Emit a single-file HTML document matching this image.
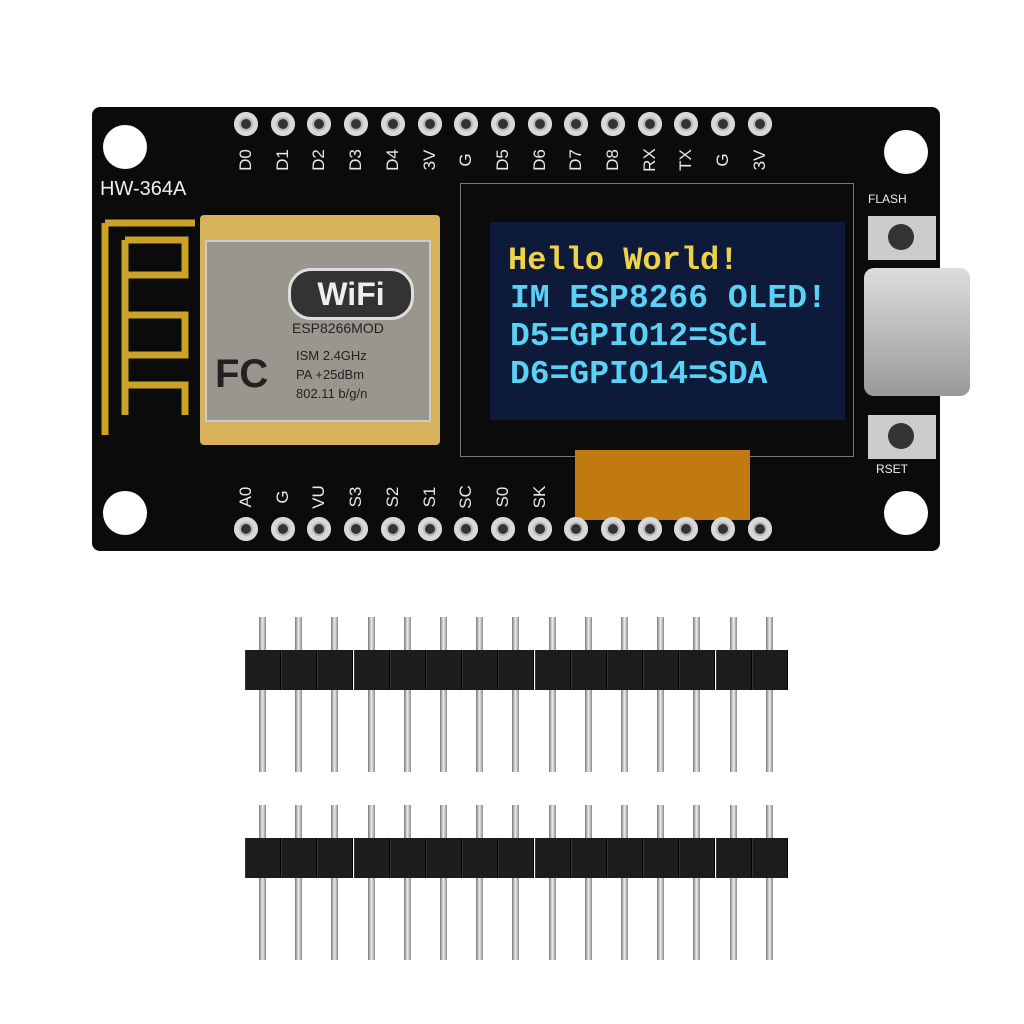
<!DOCTYPE html>
<html><head><style>
body{margin:0;width:1024px;height:1024px;background:#fff;position:relative;overflow:hidden;font-family:"Liberation Sans",sans-serif}
.a{position:absolute}
.board{left:92px;top:107px;width:848px;height:444px;background:#0b0b0b;border-radius:8px}
.hole{width:44px;height:44px;border-radius:50%;background:#fff}
.pad{width:24px;height:24px;border-radius:50%;background:#b9b9b9;box-shadow:inset 0 0 0 5px #d8d8d8}
.pad::after{content:"";position:absolute;left:7px;top:7px;width:10px;height:10px;border-radius:50%;background:#333}
.lbl{color:#e8e8e8;font-size:17px;transform:rotate(-90deg);transform-origin:center;width:40px;text-align:center}
.scr{left:490px;top:222px;width:355px;height:198px;background:#0d1a3a;font-family:"Liberation Mono",monospace;font-size:32px;font-weight:bold}
.pin{width:7px;background:linear-gradient(90deg,#777,#eee,#888)}
.plas{background:#151515;height:40px}
.seg{width:34px;height:40px;background:#1c1c1c;border-left:1px solid #333;border-right:1px solid #000}
</style></head><body>
<div class="a board"></div>
<div class="a hole" style="left:103px;top:125px"></div>
<div class="a hole" style="left:884px;top:130px"></div>
<div class="a hole" style="left:103px;top:491px"></div>
<div class="a hole" style="left:884px;top:491px"></div>
<div class="a" style="left:100px;top:178px;color:#eee;font-size:20px">HW-364A</div>
<svg class="a" style="left:95px;top:215px" width="110" height="230"><path d="M10 8 H100 M10 8 V220 M30 25 V200 M30 25 H90 V60 H30 M30 100 H90 V140 H30 M30 170 H90 V200" stroke="#c9a227" stroke-width="7" fill="none"/></svg>
<div class="a" style="left:200px;top:215px;width:240px;height:230px;background:#d8b25a;border-radius:4px"></div>
<div class="a" style="left:205px;top:240px;width:222px;height:178px;background:#9a968e;border:2px solid #ccc"></div>
<div class="a" style="left:288px;top:268px;width:120px;height:46px;border-radius:23px;background:#333;border:3px solid #ddd;color:#eee;font-size:32px;font-weight:bold;text-align:center;line-height:46px">WiFi</div>
<div class="a" style="left:292px;top:320px;color:#222;font-size:14px">ESP8266MOD</div>
<div class="a" style="left:215px;top:352px;color:#222;font-size:40px;font-weight:bold">FC</div>
<div class="a" style="left:296px;top:346px;color:#222;font-size:13px;line-height:19px">ISM 2.4GHz<br>PA +25dBm<br>802.11 b/g/n</div>
<div class="a" style="left:460px;top:183px;width:392px;height:272px;border:1px solid #777"></div>
<div class="a" style="left:575px;top:450px;width:175px;height:70px;background:#c07a10"></div>
<div class="a scr"><div style="position:absolute;left:18px;top:20px;color:#f0d24a">Hello World!</div>
<div style="position:absolute;left:20px;top:58px;color:#5ad2f5;line-height:38px;font-size:33px">IM ESP8266 OLED!<br>D5=GPIO12=SCL<br>D6=GPIO14=SDA</div></div>
<div class="a" style="left:864px;top:268px;width:106px;height:128px;background:linear-gradient(#ddd,#999);border-radius:10px"></div>
<div class="a" style="left:868px;top:216px;width:68px;height:44px;background:#ccc"></div>
<div class="a" style="left:888px;top:224px;width:26px;height:26px;border-radius:50%;background:#333"></div>
<div class="a" style="left:868px;top:415px;width:68px;height:44px;background:#ccc"></div>
<div class="a" style="left:888px;top:423px;width:26px;height:26px;border-radius:50%;background:#333"></div>
<div class="a" style="left:868px;top:192px;color:#eee;font-size:12px">FLASH</div>
<div class="a" style="left:876px;top:462px;color:#eee;font-size:12px">RSET</div>
<div id="pins"></div>
<script>
var t=["D0","D1","D2","D3","D4","3V","G","D5","D6","D7","D8","RX","TX","G","3V"];
var b=["A0","G","VU","S3","S2","S1","SC","S0","SK","G","3V","EN","RST","G","VIN"];
var h="";
for(var i=0;i<15;i++){var x=234+i*36.7;
h+='<div class="a pad" style="left:'+x+'px;top:112px"></div>';
h+='<div class="a pad" style="left:'+x+'px;top:517px"></div>';
h+='<div class="a lbl" style="left:'+(x-8)+'px;top:150px">'+t[i]+'</div>';
if(i<9)h+='<div class="a lbl" style="left:'+(x-8)+'px;top:487px">'+b[i]+'</div>';
var px=259+i*36.2;
h+='<div class="a pin" style="left:'+px+'px;top:617px;height:155px"></div>';
h+='<div class="a pin" style="left:'+px+'px;top:805px;height:155px"></div>';
h+='<div class="a seg" style="left:'+(px-14)+'px;top:650px"></div>';
h+='<div class="a seg" style="left:'+(px-14)+'px;top:838px"></div>';}
document.getElementById("pins").innerHTML=h;
</script>
</body></html>
